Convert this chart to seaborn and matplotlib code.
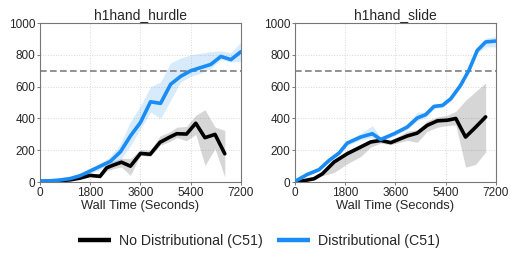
import numpy as np
import pandas as pd
import matplotlib
matplotlib.use("Agg")
import matplotlib.pyplot as plt
import seaborn as sns

sns.set_theme(style="ticks")
plt.rcParams['font.family'] = ['Liberation Sans', 'DejaVu Sans']

BLACK = '#000000'
BLUE = '#1a8cf5'
TARGET = 700

# h1hand_hurdle
hurdle_nd_t = [0, 360, 720, 1080, 1440, 1790, 2150, 2390, 2650, 2920, 3240, 3600, 3950,
               4300, 4650, 4900, 5250, 5580, 5910, 6270, 6620]
hurdle_nd = [4, 6, 9, 14, 25, 42, 36, 90, 108, 125, 100, 180, 175, 250, 283, 304, 302, 370, 279, 300, 178]
hurdle_nd_lo = [2, 4, 6, 10, 20, 35, 25, 70, 85, 95, 42, 168, 160, 231, 255, 280, 260, 300, 105, 210, 31]
hurdle_nd_hi = [6, 8, 12, 18, 30, 50, 55, 110, 135, 150, 147, 205, 200, 290, 315, 345, 350, 420, 455, 346, 325]

hurdle_d_t = [0, 360, 720, 1080, 1440, 1800, 2160, 2520, 2880, 3240, 3600, 3960, 4320, 4680,
              5040, 5400, 5760, 6120, 6480, 6840, 7200]
hurdle_d = [5, 8, 13, 22, 40, 70, 100, 130, 190, 290, 375, 505, 495, 615, 665, 700, 720, 740, 790, 770, 820]
hurdle_d_lo = [3, 6, 10, 17, 32, 55, 80, 105, 140, 230, 335, 440, 400, 515, 630, 665, 685, 715, 770, 755, 760]
hurdle_d_hi = [7, 10, 16, 27, 48, 85, 120, 160, 240, 380, 480, 600, 630, 750, 780, 800, 810, 820, 825, 815, 880]

# h1hand_slide
slide_nd_t = [0, 300, 680, 980, 1400, 1870, 2350, 2710, 3070, 3430, 4020, 4380, 4740, 5100,
              5460, 5760, 6110, 6470, 6830]
slide_nd = [0, 8, 21, 52, 126, 178, 220, 252, 262, 248, 290, 308, 357, 385, 389, 400, 283, 345, 410]
slide_nd_lo = [0, 4, 12, 40, 60, 115, 160, 220, 245, 235, 262, 250, 320, 345, 355, 360, 94, 111, 189]
slide_nd_hi = [0, 14, 30, 62, 140, 200, 240, 270, 278, 262, 320, 330, 385, 410, 420, 445, 514, 570, 623]

slide_d_t = [0, 440, 860, 1220, 1580, 1870, 2350, 2770, 3070, 3550, 4020, 4380, 4680, 4980,
             5280, 5580, 5930, 6230, 6530, 6830, 7200]
slide_d = [5, 48, 78, 136, 183, 245, 283, 304, 268, 304, 346, 403, 424, 476, 482, 524, 608, 703, 828, 881, 887]
slide_d_lo = [3, 40, 70, 125, 170, 230, 265, 280, 258, 290, 330, 385, 405, 462, 470, 510, 594, 690, 810, 850, 850]
slide_d_hi = [7, 56, 86, 148, 196, 262, 305, 355, 280, 318, 362, 440, 440, 490, 495, 540, 622, 716, 845, 905, 915]

methods = ['No Distributional (C51)', 'Distributional (C51)']
palette = {methods[0]: BLACK, methods[1]: BLUE}

panels = [
    ('h1hand_hurdle', (hurdle_nd_t, hurdle_nd, hurdle_nd_lo, hurdle_nd_hi),
     (hurdle_d_t, hurdle_d, hurdle_d_lo, hurdle_d_hi)),
    ('h1hand_slide', (slide_nd_t, slide_nd, slide_nd_lo, slide_nd_hi),
     (slide_d_t, slide_d, slide_d_lo, slide_d_hi)),
]

fig = plt.figure(figsize=(5.18, 2.59), dpi=100)
fig.patch.set_facecolor('white')
axes = [fig.add_axes([0.0772, 0.297, 0.388, 0.614]),
        fig.add_axes([0.5695, 0.297, 0.388, 0.614])]

for ax, (title, nd, d) in zip(axes, panels):
    frames = []
    for name, (t, v, lo, hi) in zip(methods, [nd, d]):
        frames.append(pd.DataFrame({'time': t, 'return': v, 'method': name}))
        ax.fill_between(t, lo, hi, color=palette[name], alpha=0.17 if name == methods[1] else 0.16,
                        linewidth=0, zorder=1)
    df = pd.concat(frames, ignore_index=True)
    sns.lineplot(data=df, x='time', y='return', hue='method', palette=palette, ax=ax,
                 linewidth=2.6, legend=False, errorbar=None, estimator=None, sort=False, zorder=3)
    ax.axhline(TARGET, color='#7f7f7f', linestyle=(0, (4, 2)), linewidth=1.2, zorder=2)

    ax.set_xlim(0, 7200)
    ax.set_ylim(0, 1000)
    ax.set_xticks([0, 1800, 3600, 5400, 7200])
    ax.set_yticks([0, 200, 400, 600, 800, 1000])
    ax.grid(True, color='#d9d9d9', linestyle=':', linewidth=0.7)
    ax.set_axisbelow(True)
    ax.set_title(title, fontsize=10, pad=3)
    ax.set_xlabel('Wall Time (Seconds)', fontsize=9.3, labelpad=1)
    ax.set_ylabel('')
    ax.tick_params(axis='both', labelsize=8.5, length=2, width=0.6, pad=1.5, color='#666666')
    for s in ax.spines.values():
        s.set_color('#777777')
        s.set_linewidth(0.8)

handles = [plt.Line2D([], [], color=palette[m], linewidth=3.2, solid_capstyle='butt') for m in methods]
fig.legend(handles, methods, loc='center', bbox_to_anchor=(0.5, 0.07), ncol=2, frameon=False,
           fontsize=10.2, handlelength=2.3, handletextpad=0.6, columnspacing=1.0)

fig.savefig('out.png', dpi=100, facecolor='white')
